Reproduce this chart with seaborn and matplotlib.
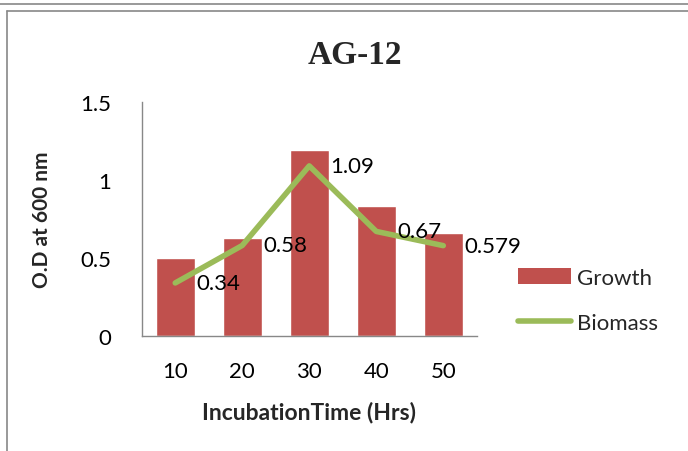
import matplotlib
matplotlib.use("Agg")
import matplotlib.pyplot as plt
import seaborn as sns
import pandas as pd
from matplotlib.lines import Line2D
from matplotlib.patches import Patch

hours = ["10", "20", "30", "40", "50"]
growth = [0.50, 0.63, 1.19, 0.83, 0.66]
biomass = [0.34, 0.58, 1.09, 0.67, 0.579]
biomass_labels = ["0.34", "0.58", "1.09", "0.67", "0.579"]

sns.set_theme(style="white")
plt.rcParams['font.family'] = ['Lato', 'DejaVu Sans']

bar_color = "#C0504D"
line_color = "#9BBB59"

df = pd.DataFrame({"Hours": hours, "Growth": growth, "Biomass": biomass})

fig = plt.figure(figsize=(6.88, 4.52), dpi=100)
ax = fig.add_axes([0.206, 0.2544, 0.487, 0.518])

sns.barplot(data=df, x="Hours", y="Growth", color=bar_color, width=0.58,
            saturation=1, ax=ax)
sns.lineplot(x=list(range(len(hours))), y=biomass, color=line_color, linewidth=4,
             ax=ax, solid_capstyle="round")

for i, (v, lab) in enumerate(zip(biomass, biomass_labels)):
    ax.annotate(lab, (i, v), xytext=(15, 0), textcoords="offset points",
                ha="left", va="center", fontsize=16, color="black")

ax.set_ylim(0, 1.5)
ax.set_xlim(-0.5, 4.5)
ax.set_yticks([0, 0.5, 1, 1.5])
ax.set_yticklabels(["0", "0.5", "1", "1.5"])
ax.tick_params(axis="both", labelsize=16, length=0, colors="black")
ax.tick_params(axis="y", pad=22)
ax.tick_params(axis="x", pad=18)
for s in ["top", "right"]:
    ax.spines[s].set_visible(False)
for s in ["left", "bottom"]:
    ax.spines[s].set_color("#888888")
    ax.spines[s].set_linewidth(1)
ax.set_xlabel("IncubationTime (Hrs)", fontsize=16.5, fontweight="bold", labelpad=14)
ax.set_ylabel("O.D at 600 nm", fontsize=15, fontweight="bold", labelpad=20)

fig.text(0.516, 0.878, "AG-12", ha="center", va="center", fontsize=24,
         fontweight="bold", family=["Liberation Serif", "DejaVu Serif"])

handles = [Patch(facecolor=bar_color, edgecolor="none"),
           Line2D([0], [0], color=line_color, linewidth=4, solid_capstyle="round")]
leg = fig.legend(handles, ["Growth", "Biomass"], loc="center left",
                 bbox_to_anchor=(0.74, 0.333), frameon=False, fontsize=16,
                 handlelength=2.4, handletextpad=0.25, labelspacing=1.15,
                 handleheight=0.7, borderaxespad=0)

# outer frame lines
fig.add_artist(Line2D([0, 1], [1 - 5 / 452, 1 - 5 / 452], color="#888888", lw=1.2,
                      transform=fig.transFigure))
fig.add_artist(Line2D([7 / 688, 1], [1 - 12 / 452, 1 - 12 / 452], color="#888888",
                      lw=1.2, transform=fig.transFigure))
fig.add_artist(Line2D([7 / 688, 7 / 688], [0, 1 - 12 / 452], color="#888888",
                      lw=1.2, transform=fig.transFigure))

fig.savefig("out.png", dpi=100)
